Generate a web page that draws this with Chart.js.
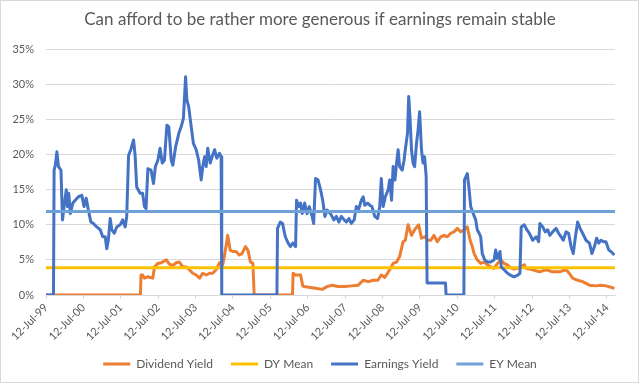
<!DOCTYPE html>
<html>
<head>
<meta charset="utf-8">
<script src="https://cdn.jsdelivr.net/npm/chart.js@4.4.1/dist/chart.umd.min.js"></script>
<style>
    html, body { margin: 0; padding: 0; background: #ffffff; }
    #wrap { position: relative; width: 640px; height: 384px; }
</style>
</head>
<body>
<div id="wrap"><canvas id="yieldChart" width="640" height="384"></canvas></div>
<script>
// ------------------- Data -------------------
// x positions are months since 12-Jul-99 (first axis tick)
const startYear = 1999;
const tickMonths = [0, 12, 24, 36, 48, 60, 72, 84, 96, 108, 120, 132, 144, 156, 168, 180];
const yTicks = [0, 5, 10, 15, 20, 25, 30, 35];

const seriesNames = ['Dividend Yield', 'DY Mean', 'Earnings Yield', 'EY Mean'];

const eyMonths = [
    0, 2.4, 2.6, 3.0, 3.5, 4.0, 4.8, 5.3, 5.8, 6.5,
    6.9, 7.3, 7.8, 8.6, 9.4, 10.4, 11.5, 12.2, 12.9, 13.6,
    14.4, 15.2, 16.3, 17.4, 18.2, 19.0, 19.5, 20.0, 20.6, 21.1,
    21.9, 22.7, 23.8, 24.6, 25.4, 25.9, 26.5, 27.2, 28.1, 28.6,
    29.1, 30.2, 31.0, 31.6, 32.1, 32.7, 33.7, 34.5, 35.1, 35.9,
    36.6, 37.3, 38.0, 38.8, 39.4, 40.2, 40.7, 41.6, 42.6, 43.4,
    44.1, 44.8, 45.2, 45.8, 46.6, 47.3, 48.2, 49.0, 49.8, 50.3,
    50.9, 51.4, 51.9, 52.7, 53.3, 54.1, 54.8, 55.7, 56.2, 56.4,
    74.1, 74.3, 75.2, 75.9, 76.8, 77.7, 78.4, 79.2, 80.1, 80.4,
    81.1, 81.7, 82.2, 83.0, 83.8, 84.5, 85.4, 85.9, 86.5, 87.3,
    88.1, 88.8, 89.5, 90.2, 91.3, 92.4, 93.2, 94.0, 94.8, 95.7,
    96.4, 97.2, 98.0, 98.9, 99.6, 100.4, 101.2, 101.8, 102.3, 103.2,
    103.9, 104.6, 105.5, 106.4, 107.1, 107.6, 108.2, 108.9, 109.8, 110.3,
    110.9, 111.4, 112.0, 112.5, 113.0, 113.5, 114.3, 114.9, 115.3, 116.0,
    116.4, 116.8, 117.3, 117.8, 118.3, 118.9, 119.4, 119.9, 120.5, 121.0,
    121.5, 122.0, 122.3, 128.2, 128.4, 134.1, 134.3, 135.2, 135.7, 136.3,
    137.1, 137.9, 138.4, 139.0, 139.5, 140.0, 140.8, 141.7, 142.7, 143.8,
    144.3, 144.9, 145.7, 146.1, 147.0, 148.1, 149.1, 150.2, 151.3, 152.1,
    152.5, 153.5, 154.3, 155.1, 156.2, 157.3, 158.1, 158.5, 159.4, 160.2,
    161.0, 161.7, 162.6, 163.7, 164.5, 165.3, 166.0, 166.9, 167.7, 168.5,
    169.2, 169.9, 170.6, 171.4, 172.2, 173.3, 174.4, 175.2, 176.0, 176.7,
    177.4, 178.1, 178.9, 179.7, 180.6, 181.3, 182.4
];
const eyValues = [
    0, 0, 17.8, 18.5, 20.4, 18.3, 17.8, 10.7, 12.6, 15.0,
    12.6, 14.5, 11.6, 13.1, 13.5, 14.0, 14.2, 12.6, 13.8, 12.1,
    10.4, 10.2, 9.7, 9.3, 8.3, 8.3, 6.6, 7.8, 10.9, 9.3,
    8.8, 9.7, 10.0, 10.7, 9.7, 11.2, 19.9, 20.7, 22.1, 19.9,
    15.4, 14.5, 14.5, 12.6, 12.3, 18.0, 17.8, 15.9, 18.3, 19.2,
    20.9, 18.8, 19.2, 24.2, 24.0, 19.2, 18.5, 21.1, 23.0, 24.0,
    25.2, 31.1, 27.8, 26.8, 24.0, 21.6, 20.7, 19.2, 16.4, 18.3,
    19.7, 18.3, 20.9, 18.8, 19.7, 20.7, 19.5, 20.2, 19.7, 0,
    0, 9.5, 10.4, 10.2, 8.3, 7.4, 6.9, 7.4, 6.9, 13.5,
    12.6, 13.1, 11.6, 13.1, 11.6, 12.6, 11.2, 10.2, 16.6, 16.4,
    15.0, 13.5, 11.2, 12.1, 11.6, 10.7, 11.2, 10.4, 11.2, 10.7,
    10.4, 10.9, 10.2, 10.7, 12.6, 12.3, 13.5, 14.0, 12.8, 13.1,
    12.8, 12.6, 11.2, 10.9, 12.6, 16.6, 12.6, 14.0, 15.0, 16.4,
    13.5, 18.3, 16.4, 18.8, 20.7, 18.3, 17.8, 19.2, 20.7, 23.0,
    28.3, 25.4, 20.7, 18.8, 18.3, 21.6, 23.5, 26.1, 20.7, 18.8,
    19.7, 16.9, 1.7, 1.7, 0, 0, 16.4, 17.3, 15.4, 12.6,
    11.6, 10.7, 9.3, 8.8, 8.3, 5.9, 5.0, 4.7, 4.7, 5.0,
    6.4, 5.2, 6.2, 4.0, 3.6, 3.1, 2.8, 2.6, 2.8, 3.1,
    9.7, 10.0, 9.3, 8.8, 7.8, 8.3, 7.6, 10.2, 9.7, 9.0,
    9.3, 8.5, 9.0, 9.5, 8.8, 8.3, 7.8, 9.0, 8.8, 6.9,
    5.9, 8.3, 10.4, 9.5, 8.8, 7.8, 7.4, 5.9, 6.9, 8.1,
    7.4, 7.8, 7.6, 7.6, 6.4, 6.2, 5.7
];

const dyMonths = [
    0, 30.3, 30.5, 31.0, 31.6, 32.7, 33.5, 34.3, 34.8, 35.9,
    37.0, 38.6, 39.6, 40.7, 41.8, 42.8, 43.9, 45.0, 46.0, 47.1,
    48.2, 49.3, 50.3, 51.4, 52.5, 53.5, 54.6, 55.7, 56.7, 57.4,
    58.3, 59.1, 59.9, 61.0, 62.0, 62.9, 64.0, 64.8, 65.6, 66.4,
    66.8, 79.1, 79.3, 80.1, 81.7, 82.4, 82.7, 84.3, 86.5, 88.6,
    90.2, 91.8, 93.7, 95.9, 98.0, 100.2, 101.8, 103.4, 105.0, 106.5,
    107.6, 108.7, 110.3, 111.4, 112.5, 113.5, 114.6, 115.3, 116.2, 117.3,
    118.3, 119.6, 120.5, 121.5, 122.6, 123.5, 124.5, 125.6, 126.7, 127.7,
    128.8, 129.9, 130.9, 132.0, 133.1, 134.2, 135.2, 136.1, 136.8, 137.4,
    138.4, 139.5, 140.6, 141.7, 142.7, 143.8, 144.9, 145.9, 147.0, 148.0,
    149.1, 150.2, 151.2, 152.3, 153.5, 154.0, 156.2, 158.3, 160.5, 162.6,
    164.7, 166.9, 167.9, 169.0, 170.6, 172.2, 174.4, 176.5, 178.1, 179.7,
    181.3, 182.4
];
const dyValues = [
    0, 0, 2.85, 2.85, 2.4, 2.6, 2.5, 2.4, 4.0, 4.5,
    4.6, 5.0, 4.4, 4.2, 4.6, 4.7, 4.0, 4.0, 3.6, 3.1,
    2.85, 2.4, 3.1, 2.85, 3.1, 3.1, 3.6, 4.6, 4.3, 5.9,
    8.5, 6.4, 6.2, 6.2, 5.7, 5.9, 6.9, 6.4, 4.7, 4.5,
    0, 0, 3.1, 2.85, 2.85, 1.3, 1.2, 1.1, 0.95, 0.8,
    1.2, 1.4, 1.2, 1.2, 1.3, 1.4, 2.1, 1.9, 2.1, 2.1,
    2.85, 2.5, 3.6, 4.5, 4.7, 5.5, 7.6, 7.8, 10.0, 8.5,
    9.3, 10.0, 8.1, 8.3, 7.8, 7.8, 8.5, 7.6, 8.3, 8.5,
    8.3, 8.8, 9.0, 9.5, 9.0, 9.3, 9.7, 7.8, 6.9, 5.9,
    5.0, 4.5, 4.7, 4.3, 4.0, 3.8, 4.5, 5.0, 4.5, 4.3,
    3.9, 3.7, 3.8, 4.0, 4.3, 3.8, 3.6, 3.3, 3.6, 3.3,
    3.3, 3.6, 3.1, 2.4, 2.1, 1.9, 1.4, 1.3, 1.4, 1.3,
    1.1, 0.95
];

const dyMean = 3.9;
const eyMean = 11.9;
const lastMonth = 182.6;

// ------------------- Helpers -------------------
function toPoints(months, values) {
    const n = Math.min(months.length, values.length);
    const pts = [];
    for (let i = 0; i < n; i++) pts.push({ x: months[i], y: values[i] });
    return pts;
}

function flatLine(value) {
    return [{ x: 0, y: value }, { x: lastMonth, y: value }];
}

function tickLabel(m) {
    const yy = (startYear + Math.round(m / 12)) % 100;
    return '12-Jul-' + String(yy).padStart(2, '0');
}

const frame = {
    id: 'frame',
    afterDraw(chart) {
        const ctx = chart.ctx;
        ctx.save();
        ctx.strokeStyle = '#d9d9d9';
        ctx.lineWidth = 1;
        ctx.strokeRect(0.5, 0.5, 638, 382);
        ctx.restore();
    }
};

// ------------------- Chart -------------------
const FONT = 'Lato, "Open Sans", sans-serif';
const GREY = '#595959';

const datasets = [
    { label: seriesNames[0], data: toPoints(dyMonths, dyValues), borderColor: '#ED7D31', backgroundColor: '#ED7D31', order: 4 },
    { label: seriesNames[1], data: flatLine(dyMean), borderColor: '#FFC000', backgroundColor: '#FFC000', order: 3 },
    { label: seriesNames[2], data: toPoints(eyMonths, eyValues), borderColor: '#4472C4', backgroundColor: '#4472C4', order: 2 },
    { label: seriesNames[3], data: flatLine(eyMean), borderColor: '#6FA1D9', backgroundColor: '#6FA1D9', order: 1 }
].map(ds => Object.assign(ds, {
    borderWidth: 3,
    pointRadius: 0,
    tension: 0,
    fill: false,
    borderJoinStyle: 'round'
}));

new Chart(document.getElementById('yieldChart'), {
    type: 'line',
    data: { datasets },
    options: {
        responsive: false,
        animation: false,
        layout: { padding: { left: 0, right: 0, top: 0, bottom: 4 } },
        plugins: {
            title: {
                display: true,
                text: 'Can afford to be rather more generous if earnings remain stable',
                color: GREY,
                font: { family: FONT, size: 17, weight: 'normal' },
                padding: { top: 9, bottom: 20 }
            },
            legend: {
                position: 'bottom',
                labels: {
                    color: GREY,
                    font: { family: FONT, size: 12 },
                    boxWidth: 27,
                    boxHeight: 3,
                    padding: 18,
                    sort: (a, b) => a.datasetIndex - b.datasetIndex,
                    generateLabels: chart => Chart.defaults.plugins.legend.labels
                        .generateLabels(chart).map(l => Object.assign(l, { lineWidth: 0 }))
                }
            },
            tooltip: { enabled: false }
        },
        scales: {
            x: {
                type: 'linear',
                min: 0,
                max: lastMonth,
                afterBuildTicks: scale => {
                    scale.ticks = tickMonths.map(v => ({ value: v }));
                },
                afterFit: scale => { scale.height = 45; },
                ticks: {
                    color: GREY,
                    font: { family: FONT, size: 11 },
                    minRotation: 45,
                    maxRotation: 45,
                    padding: 2,
                    autoSkip: false,
                    callback: v => tickLabel(v)
                },
                grid: { drawOnChartArea: false, color: '#d9d9d9', tickLength: 4 },
                border: { display: true, color: '#d9d9d9' }
            },
            y: {
                min: 0,
                max: 35,
                afterBuildTicks: scale => {
                    scale.ticks = yTicks.map(v => ({ value: v }));
                },
                afterFit: scale => { scale.width = 46; },
                ticks: {
                    color: GREY,
                    font: { family: FONT, size: 11 },
                    padding: 12,
                    callback: v => v + '%'
                },
                grid: { color: '#d9d9d9', drawTicks: false },
                border: { display: false }
            },
            // empty right-hand strip so the plot stops short of the frame
            gap: {
                type: 'linear',
                position: 'right',
                display: true,
                afterFit: scale => { scale.width = 25; },
                ticks: { display: false },
                grid: { display: false, drawTicks: false },
                border: { display: false }
            }
        }
    },
    plugins: [frame]
});
</script>
</body>
</html>
